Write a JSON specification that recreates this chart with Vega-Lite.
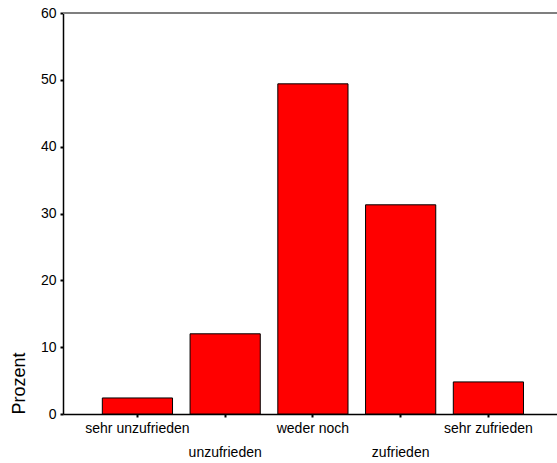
{
  "$schema": "https://vega.github.io/schema/vega-lite/v6.json",
  "autosize": {"type": "none"},
  "width": 494,
  "height": 401,
  "padding": {"left": 63, "top": 13, "right": 0, "bottom": 49},
  "background": "white",
  "config": {
    "view": {"stroke": null},
    "font": "Liberation Sans"
  },
  "data": {
    "values": [
      {"kategorie": "sehr unzufrieden", "prozent": 2.4},
      {"kategorie": "unzufrieden", "prozent": 12.0},
      {"kategorie": "weder noch", "prozent": 49.4},
      {"kategorie": "zufrieden", "prozent": 31.3},
      {"kategorie": "sehr zufrieden", "prozent": 4.8}
    ]
  },
  "layer": [
    {
      "mark": {"type": "rule", "color": "#7f7f7f", "strokeWidth": 1.5},
      "encoding": {"y": {"datum": 60, "type": "quantitative"}}
    },
    {
      "mark": {"type": "bar", "color": "#ff0000", "stroke": "#000000", "strokeWidth": 1},
      "encoding": {
        "x": {
          "field": "kategorie",
          "type": "nominal",
          "sort": null,
          "scale": {"paddingInner": 0.2, "paddingOuter": 0.415, "align": 0.54},
          "axis": {
            "title": null,
            "labelAngle": 0,
            "labelFont": "Liberation Sans",
            "labelFontSize": 14,
            "labelColor": "#000000",
            "labelOverlap": false,
            "labelBound": false,
            "labelPadding": {
              "condition": {"test": "indexof(['unzufrieden','zufrieden'], datum.value) >= 0", "value": 28},
              "value": 4
            },
            "domainColor": "#000000",
            "domainWidth": 1.5,
            "tickColor": "#000000",
            "tickSize": 3,
            "tickWidth": 2
          }
        },
        "y": {
          "field": "prozent",
          "type": "quantitative",
          "scale": {"domain": [0, 60], "nice": false},
          "axis": {
            "title": "Prozent",
            "titleFont": "Liberation Sans",
            "titleFontSize": 18,
            "titleFontWeight": "normal",
            "titleColor": "#000000",
            "titleAnchor": "start",
            "titlePadding": 12,
            "values": [0, 10, 20, 30, 40, 50, 60],
            "grid": false,
            "labelFont": "Liberation Sans",
            "labelFontSize": 14,
            "labelColor": "#000000",
            "labelPadding": 4,
            "domainColor": "#000000",
            "domainWidth": 1.5,
            "tickColor": "#000000",
            "tickSize": 3,
            "tickWidth": 2
          }
        }
      }
    }
  ]
}
